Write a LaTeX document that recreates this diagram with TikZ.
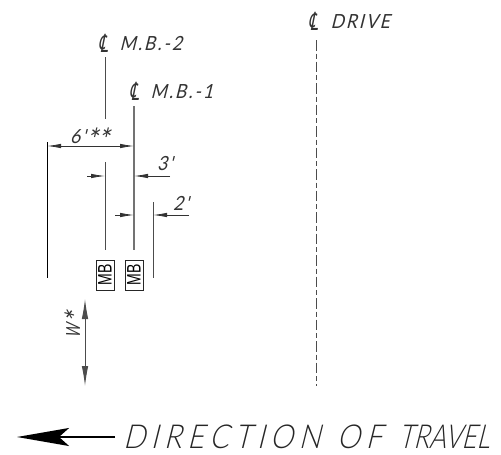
\documentclass[tikz,border=0pt]{standalone}
\usepackage{fontspec}
\usetikzlibrary{arrows.meta}
\setmainfont{Liberation Sans}
\newfontfamily\cad[FakeSlant=0.25,FakeStretch=0.9,LetterSpace=10]{Lato}
\newfontfamily\cadnarrow[FakeSlant=0.25,FakeStretch=0.68]{Lato}
\newfontfamily\cadwide[FakeSlant=0.25,FakeStretch=0.88,LetterSpace=17]{Lato Light}
\newfontfamily\cadtight[FakeSlant=0.25,FakeStretch=0.78,LetterSpace=0]{Lato Light}
\newfontfamily\clfont[FakeSlant=0.2,FakeStretch=0.6]{DejaVu Sans}
\newfontfamily\mbfont[FakeStretch=0.72]{Liberation Sans}
\tikzset{
  x=1pt,y=-1pt,
  every node/.style={inner sep=0pt,outer sep=0pt},
  lab/.style={anchor=base west,font=\cad\fontsize{19.5}{19.5}\selectfont,text=black!80},
  big/.style={anchor=base west,font=\cadwide\fontsize{33}{33}\selectfont,text=black!85},
  ext/.style={line width=1pt,draw=black!70},
  center/.style={line width=1.4pt,draw=black!55},
  dim/.style={line width=0.8pt,draw=black!80,-{Latex[length=14pt,width=4.5pt]}},
  both/.style={line width=0.9pt,draw=black!70,{Latex[length=20pt,width=6.5pt]}-{Latex[length=20pt,width=6.5pt]}},
  mbbox/.style={draw=black!85,line width=0.9pt,minimum width=18pt,minimum height=30pt,fill=white},
  mbtext/.style={font=\mbfont\fontsize{19.5}{19.5}\selectfont,rotate=90},
}
\newcommand{\cl}{\raisebox{-2pt}{\clfont\fontsize{25}{25}\selectfont\char"2104}}
\newcommand{\bigstar}{\raisebox{-7pt}{\fontsize{30}{30}\selectfont *}}
\begin{document}
\begin{tikzpicture}
\useasboundingbox (0,0) rectangle (501,455);
% named points
\coordinate (a1) at (105,57); \coordinate (a2) at (105,119);
\coordinate (a3) at (105,162); \coordinate (a4) at (105,250);
\coordinate (b1) at (134,106); \coordinate (b2) at (134,250);
\coordinate (c1) at (47,142); \coordinate (c2) at (47,278);
\coordinate (d1) at (153,202); \coordinate (d2) at (153,278);
\coordinate (e1) at (316,40); \coordinate (e2) at (316,386);
\draw[ext] (a1)--(a2);
\draw[ext] (a3)--(a4);
\draw[center] (b1)--(b2);
\draw[ext,black] (c1)--(c2);
\draw[ext] (d1)--(d2);
\draw[ext,dash pattern=on 10.5pt off 3pt on 5pt off 3pt] (e1)--(e2);
% dimensions
\coordinate (f1) at (47,146); \coordinate (f2) at (134,146);
\draw[dim,{Latex[length=14pt,width=4.5pt]}-{Latex[length=14pt,width=4.5pt]}] (f1)--(f2);
\coordinate (g1) at (87,176); \coordinate (g2) at (105,176);
\coordinate (g3) at (170,176); \coordinate (g4) at (134,176);
\draw[dim] (g1)--(g2);
\draw[dim] (g3)--(g4);
\coordinate (h1) at (115,215); \coordinate (h2) at (134,215);
\coordinate (h3) at (189,215); \coordinate (h4) at (153,215);
\draw[dim] (h1)--(h2);
\draw[dim] (h3)--(h4);
\coordinate (w1) at (85,299); \coordinate (w2) at (85,386);
\draw[both] (w1)--(w2);
% MB boxes
\node[mbbox] (mb1) at (105,275) {};
\node[mbtext] (mb1t) at (mb1.center) {MB};
\node[mbbox] (mb2) at (134,275) {};
\node[mbtext] (mb2t) at (mb2.center) {MB};
% labels
\node[lab] (l1) at (98,50) {\cl\hspace{12pt}M.B.-2};
\node[lab] (l2) at (129,98) {\cl\hspace{12pt}M.B.-1};
\node[lab] (l3) at (308,28) {\cl\hspace{13pt}DRIVE};
\node[lab] (l4) at (70,143) {6'\bigstar\bigstar};
\node[lab] (l5) at (157,170) {3'};
\node[lab] (l6) at (173,210) {2'};
\node[lab,rotate=90] (l7) at (80,338) {{\cadnarrow W}\bigstar};
% direction
\coordinate (t1) at (115,437); \coordinate (t2) at (17,437);
\draw[line width=2.2pt,-{Stealth[length=52pt,width=18pt,inset=10pt]}] (t1)--(t2);
\node[big] (dir) at (123,448) {DIRECTION\hspace{3pt} OF\hspace{3pt} {\cadtight\fontsize{33}{33}\selectfont TRAVEL}};
\end{tikzpicture}
\end{document}
